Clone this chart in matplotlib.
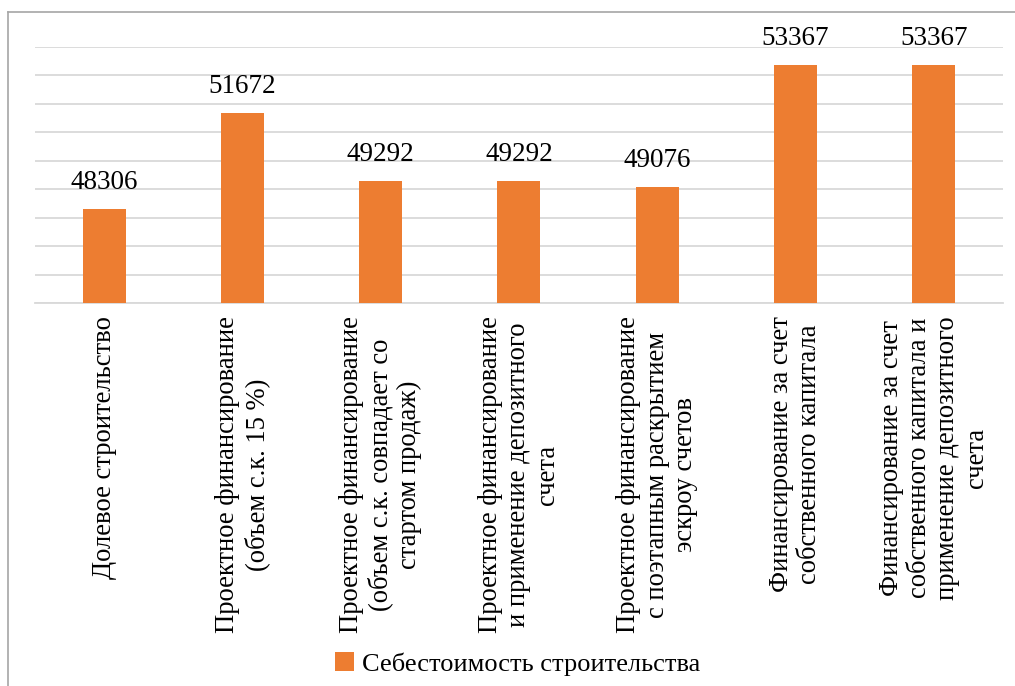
import numpy as np
import matplotlib.pyplot as plt
from matplotlib.lines import Line2D

plt.rcParams['font.family'] = ['Liberation Serif', 'DejaVu Serif']

categories = [
    'Долевое строительство',
    'Проектное финансирование\n(объем с.к. 15 %)',
    'Проектное финансирование\n(объем с.к. совпадает со\nстартом продаж)',
    'Проектное финансирование\nи применение депозитного\nсчета',
    'Проектное финансирование\nс поэтапным раскрытием\nэскроу счетов',
    'Финансирование за счет\nсобственного капитала',
    'Финансирование за счет\nсобственного капитала и\nприменение депозитного\nсчета',
]
values = [48306, 51672, 49292, 49292, 49076, 53367, 53367]
series_name = 'Себестоимость строительства'

bar_color = '#ED7D31'
grid_color = '#D9D9D9'

fig = plt.figure(figsize=(10.15, 6.86), dpi=100)
ax = fig.add_axes([0.0345, 0.558, 0.9535, 0.3735])

x = np.arange(len(values))
bars = ax.bar(x, values, width=0.31, color=bar_color, label=series_name, zorder=3)

ax.set_ylim(45000, 54000)
ax.set_xlim(-0.5, len(values) - 0.5)
ax.set_yticks(np.arange(45000, 54001, 1000))
ax.yaxis.grid(True, color=grid_color, linewidth=1.3, zorder=0)
ax.tick_params(axis='y', left=False, labelleft=False)
ax.tick_params(axis='x', bottom=False, pad=6)
for s in ['top', 'right', 'left']:
    ax.spines[s].set_visible(False)
ax.spines['bottom'].set_color(grid_color)
ax.spines['bottom'].set_linewidth(1.3)

ax.set_xticks(x)
ax.set_xticklabels(categories, rotation=90, fontsize=19.2, ha='center', va='top',
                   multialignment='center', linespacing=1.18)

for b, v in zip(bars, values):
    ax.annotate(str(v), (b.get_x() + b.get_width() / 2, v), xytext=(0, 10),
                textcoords='offset points', ha='center', va='bottom', fontsize=19.5)

fig.legend(handles=[bars], labels=[series_name], loc='center', bbox_to_anchor=(0.51, 0.032),
           frameon=False, fontsize=19, handlelength=0.7, handleheight=0.7, handletextpad=0.3)

# chart area frame (only left and top visible)
fig.add_artist(Line2D([0.008, 0.008], [0.0, 0.983], color='#A6A6A6', linewidth=1.2))
fig.add_artist(Line2D([0.008, 1.0], [0.983, 0.983], color='#A6A6A6', linewidth=1.2))

fig.savefig('out.png', dpi=100)
